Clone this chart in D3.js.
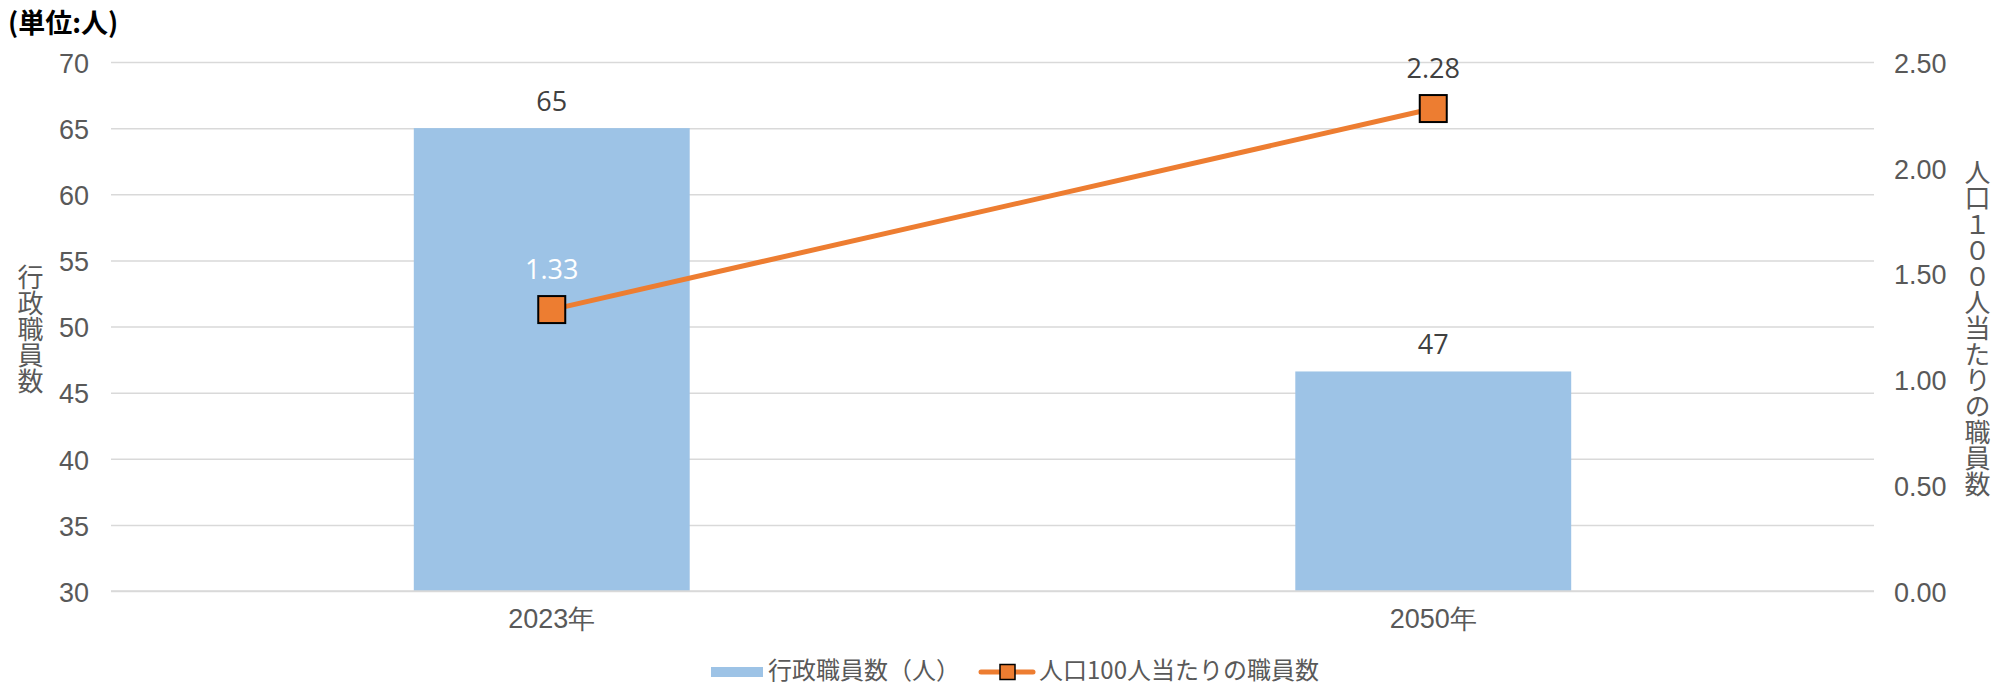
<!DOCTYPE html>
<html>
<head>
<meta charset="utf-8">
<script src="https://cdn.jsdelivr.net/npm/d3@7"></script>
<style>
html, body { margin: 0; padding: 0; background: #fff; }
#chart { position: relative; width: 1997px; height: 686px; overflow: hidden; }
svg { display: block; font-family: "Open Sans", "Noto Sans CJK JP", sans-serif; }
.vtitle {
    position: absolute;
    font-family: "Noto Sans CJK JP", sans-serif;
    font-size: 26px;
    line-height: 26px;
    color: #595959;
    writing-mode: vertical-rl;
    text-orientation: upright;
    white-space: nowrap;
}
</style>
</head>
<body>
<div id="chart"></div>
<script>
// data
const categories = ["2023年", "2050年"];
const staffCount = [65, 46.6];          // 行政職員数（人）
const staffPer100 = [1.33, 2.28];       // 人口100人当たりの職員数
const leftTicks = [30, 35, 40, 45, 50, 55, 60, 65, 70];
const rightTicks = [0, 0.5, 1, 1.5, 2, 2.5];

const width = 1997, height = 686;
const margin = { top: 62, right: 123, bottom: 95, left: 111 };

const chart = d3.select("#chart");

const svg = chart.append("svg")
    .attr("width", width)
    .attr("height", height)
    .attr("viewBox", [0, 0, width, height]);

const x = d3.scaleBand()
    .domain(categories)
    .range([margin.left, width - margin.right])
    .padding(0);

const barWidth = x.bandwidth() * 0.313;

const yL = d3.scaleLinear()
    .domain([30, 70])
    .range([height - margin.bottom, margin.top]);

const yR = d3.scaleLinear()
    .domain([0, 2.5])
    .range([height - margin.bottom, margin.top]);

// gridlines + left axis
const gLeft = svg.append("g")
    .attr("transform", `translate(${margin.left},0)`)
    .call(d3.axisLeft(yL)
        .tickValues(leftTicks)
        .tickSize(-(width - margin.left - margin.right))
        .tickPadding(22));

gLeft.select(".domain").remove();
gLeft.selectAll(".tick line")
    .attr("stroke", "#d9d9d9")
    .attr("stroke-width", 1.5);
gLeft.selectAll(".tick text")
    .attr("fill", "#595959")
    .attr("font-size", 27)
    .attr("dy", "0.38em");

// right axis
const gRight = svg.append("g")
    .attr("transform", `translate(${width - margin.right},0)`)
    .call(d3.axisRight(yR)
        .tickValues(rightTicks)
        .tickFormat(d3.format(".2f"))
        .tickSize(0)
        .tickPadding(20));

gRight.select(".domain").remove();
gRight.selectAll(".tick text")
    .attr("fill", "#595959")
    .attr("font-size", 27)
    .attr("dy", "0.38em");

// bars
svg.append("g")
    .selectAll("rect")
    .data(categories)
    .join("rect")
    .attr("x", d => x(d) + x.bandwidth() / 2 - barWidth / 2)
    .attr("width", barWidth)
    .attr("y", (d, i) => yL(staffCount[i]))
    .attr("height", (d, i) => yL(30) - yL(staffCount[i]))
    .attr("fill", "#9dc3e6");

// baseline
svg.append("line")
    .attr("x1", margin.left)
    .attr("x2", width - margin.right)
    .attr("y1", yL(30))
    .attr("y2", yL(30))
    .attr("stroke", "#d9d9d9")
    .attr("stroke-width", 1.5);

// x axis labels
const gx = svg.append("g")
    .attr("transform", `translate(0,${height - margin.bottom})`)
    .call(d3.axisBottom(x).tickSize(0).tickPadding(18));
gx.select(".domain").remove();
gx.selectAll(".tick text")
    .attr("fill", "#595959")
    .attr("font-size", 27);

// bar labels
svg.append("g")
    .selectAll("text")
    .data(categories)
    .join("text")
    .attr("x", d => x(d) + x.bandwidth() / 2)
    .attr("y", (d, i) => yL(staffCount[i]) - 17)
    .attr("text-anchor", "middle")
    .attr("font-size", 27)
    .attr("fill", "#404040")
    .text((d, i) => d3.format(".0f")(staffCount[i]));

// line
const line = d3.line()
    .x(d => x(d) + x.bandwidth() / 2)
    .y((d, i) => yR(staffPer100[i]));

svg.append("path")
    .datum(categories)
    .attr("fill", "none")
    .attr("stroke", "#ed7d31")
    .attr("stroke-width", 5)
    .attr("d", line);

const ms = 27;
svg.append("g")
    .selectAll("rect")
    .data(categories)
    .join("rect")
    .attr("x", d => x(d) + x.bandwidth() / 2 - ms / 2)
    .attr("y", (d, i) => yR(staffPer100[i]) - ms / 2)
    .attr("width", ms)
    .attr("height", ms)
    .attr("fill", "#ed7d31")
    .attr("stroke", "#000")
    .attr("stroke-width", 2);

svg.append("g")
    .selectAll("text")
    .data(categories)
    .join("text")
    .attr("x", d => x(d) + x.bandwidth() / 2)
    .attr("y", (d, i) => yR(staffPer100[i]) - 31)
    .attr("text-anchor", "middle")
    .attr("font-size", 27)
    .attr("fill", (d, i) => i === 0 ? "#ffffff" : "#404040")
    .text((d, i) => d3.format(".2f")(staffPer100[i]));

// unit note
svg.append("text")
    .attr("x", 8)
    .attr("y", 33)
    .attr("font-family", "Noto Sans CJK JP")
    .attr("font-size", 27)
    .attr("font-weight", 700)
    .attr("fill", "#000")
    .text("(単位:人)");

// vertical axis titles (html, vertical writing)
function verticalTitle(str, cx, top) {
    chart.append("div")
        .attr("class", "vtitle")
        .style("left", (cx - 13) + "px")
        .style("top", top + "px")
        .text(str);
}
verticalTitle("行政職員数", 30, 264);
verticalTitle("人口１００人当たりの職員数", 1977, 159);

// legend
const legend = svg.append("g")
    .attr("font-family", "Noto Sans CJK JP")
    .attr("font-size", 24)
    .attr("fill", "#595959");

legend.append("rect")
    .attr("x", 711).attr("y", 667)
    .attr("width", 52).attr("height", 10)
    .attr("fill", "#9dc3e6");
legend.append("text")
    .attr("x", 768).attr("y", 679)
    .text("行政職員数（人）");

legend.append("line")
    .attr("x1", 981).attr("x2", 1033)
    .attr("y1", 672).attr("y2", 672)
    .attr("stroke", "#ed7d31")
    .attr("stroke-width", 5)
    .attr("stroke-linecap", "round");
legend.append("rect")
    .attr("x", 1000).attr("y", 664.5)
    .attr("width", 15).attr("height", 15)
    .attr("fill", "#ed7d31")
    .attr("stroke", "#000")
    .attr("stroke-width", 1.5);
legend.append("text")
    .attr("x", 1039).attr("y", 679)
    .text("人口100人当たりの職員数");
</script>
</body>
</html>
